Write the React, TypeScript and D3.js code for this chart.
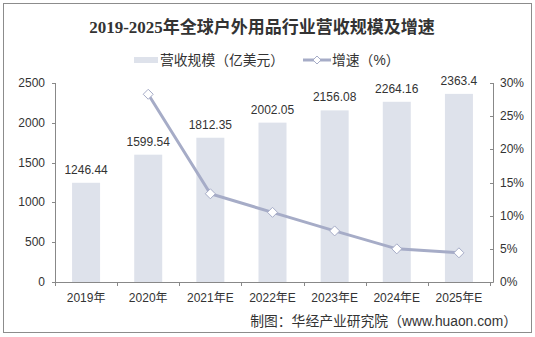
import React from "react";
import * as d3 from "d3";

const categories = ["2019年", "2020年", "2021年E", "2022年E", "2023年E", "2024年E", "2025年E"];
const revenue = [1246.44, 1599.54, 1812.35, 2002.05, 2156.08, 2264.16, 2363.4];
const revenueLabels = ["1246.44", "1599.54", "1812.35", "2002.05", "2156.08", "2264.16", "2363.4"];
const growth: (number | null)[] = [null, 28.3, 13.3, 10.5, 7.7, 5.0, 4.4];
const leftTicks = [0, 500, 1000, 1500, 2000, 2500];
const rightTicks = [0, 5, 10, 15, 20, 25, 30];

const W = 535, H = 337;
const M = { left: 55, right: 490, top: 83, bottom: 282 };
const BAR = "#DEE2EB";
const LINE = "#A6ACC7";
const SANS = "'Liberation Sans', Arial, 'Noto Sans CJK SC', sans-serif";

export default function App() {
  const x = d3.scaleBand<string>().domain(categories).range([M.left, M.right]).paddingInner(0).paddingOuter(0);
  const yL = d3.scaleLinear().domain([0, 2500]).range([M.bottom, M.top]);
  const yR = d3.scaleLinear().domain([0, 30]).range([M.bottom, M.top]);
  const bw = 28;
  const cx = (c: string) => (x(c) as number) + x.bandwidth() / 2;

  const pts = categories
    .map((c, i) => ({ c, v: growth[i] }))
    .filter((d) => d.v !== null) as { c: string; v: number }[];
  const line = d3
    .line<{ c: string; v: number }>()
    .x((d) => cx(d.c))
    .y((d) => yR(d.v));

  const diamond = (px: number, py: number, r: number) =>
    `M${px},${py - r}L${px + r},${py}L${px},${py + r}L${px - r},${py}Z`;

  return (
    <svg width={W} height={H} style={{ position: "absolute", left: 0, top: 0 }}>
      <rect x={0} y={0} width={W} height={H} fill="#fff" />
      <rect x={3.5} y={3.5} width={528} height={329} fill="none" stroke="#8c8c8c" strokeWidth={1} />
      <text
        x={262}
        y={33}
        textAnchor="middle"
        fontFamily="'Liberation Serif', 'Noto Sans CJK SC', serif"
        fontWeight="bold"
        fontSize={17}
        fill="#333"
      >
        2019-2025年全球户外用品行业营收规模及增速
      </text>

      {/* legend */}
      <rect x={134} y={57} width={24} height={6} fill={BAR} />
      <text x={160} y={65} fontFamily={SANS} fontSize={13.8} fill="#333">
        营收规模（亿美元）
      </text>
      <line x1={303} y1={60} x2={331} y2={60} stroke={LINE} strokeWidth={3} />
      <path d={diamond(317, 60, 4)} fill="#fff" stroke={LINE} strokeWidth={1} />
      <text x={332} y={65} fontFamily={SANS} fontSize={13.8} fill="#333">
        增速（%）
      </text>

      {/* bars */}
      {categories.map((c, i) => (
        <g key={c}>
          <rect x={cx(c) - bw / 2} y={yL(revenue[i])} width={bw} height={M.bottom - yL(revenue[i])} fill={BAR} />
          <text x={cx(c)} y={yL(revenue[i]) - 9} textAnchor="middle" fontFamily={SANS} fontSize={12} fill="#333">
            {revenueLabels[i]}
          </text>
        </g>
      ))}

      {/* left axis */}
      <line x1={M.left + 0.5} y1={M.top} x2={M.left + 0.5} y2={M.bottom} stroke="#888" />
      {leftTicks.map((t) => (
        <g key={t}>
          <line x1={M.left - 3} x2={M.left} y1={Math.round(yL(t)) + 0.5} y2={Math.round(yL(t)) + 0.5} stroke="#888" />
          <text x={45} y={yL(t) + 4} textAnchor="end" fontFamily={SANS} fontSize={12} fill="#333">
            {t}
          </text>
        </g>
      ))}

      {/* right axis */}
      <line x1={M.right + 3.5} y1={M.top} x2={M.right + 3.5} y2={M.bottom} stroke="#888" />
      {rightTicks.map((t) => (
        <g key={t}>
          <line x1={M.right} x2={M.right + 3.5} y1={Math.round(yR(t)) + 0.5} y2={Math.round(yR(t)) + 0.5} stroke="#888" />
          <text x={500} y={yR(t) + 4} textAnchor="start" fontFamily={SANS} fontSize={12} fill="#333">
            {t}%
          </text>
        </g>
      ))}

      {/* x axis */}
      <line x1={M.left} y1={M.bottom + 0.5} x2={M.right + 3.5} y2={M.bottom + 0.5} stroke="#888" />
      {categories.map((c) => (
        <g key={c}>
          <line
            x1={Math.round(x(c) as number) + 0.5}
            x2={Math.round(x(c) as number) + 0.5}
            y1={M.bottom}
            y2={M.bottom + 4}
            stroke="#888"
          />
          <text x={cx(c)} y={302} textAnchor="middle" fontFamily={SANS} fontSize={12} fill="#333">
            {c}
          </text>
        </g>
      ))}
      <line x1={M.right + 0.5} x2={M.right + 0.5} y1={M.bottom} y2={M.bottom + 4} stroke="#888" />

      {/* line */}
      <path d={line(pts) || ""} fill="none" stroke={LINE} strokeWidth={3} />
      {pts.map((d) => (
        <path key={d.c} d={diamond(cx(d.c), yR(d.v), 5)} fill="#fff" stroke={LINE} strokeWidth={1} />
      ))}

      {/* source */}
      <text x={517} y={326} textAnchor="end" fontFamily={SANS} fontSize={13.8} fill="#333">
        制图：华经产业研究院（www.huaon.com）
      </text>
    </svg>
  );
}
